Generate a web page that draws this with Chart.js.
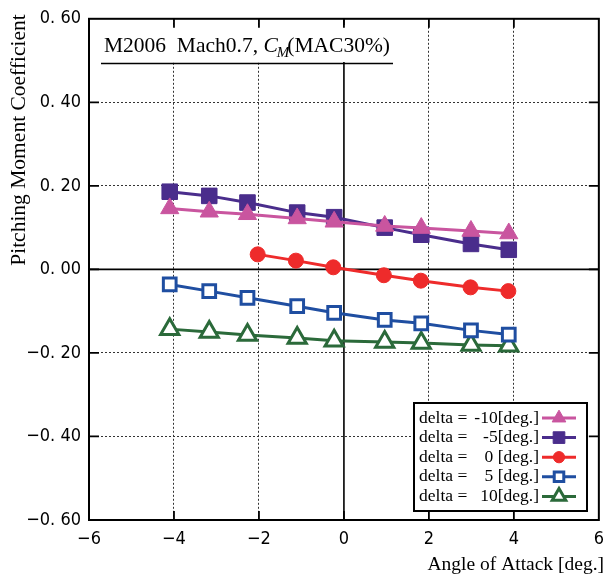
<!DOCTYPE html>
<html>
<head>
<meta charset="utf-8">
<script src="https://cdn.jsdelivr.net/npm/chart.js@4/dist/chart.umd.min.js"></script>
<style>
  body { margin: 0; background: #fff; }
  #wrap { width: 613px; height: 576px; }
</style>
</head>
<body>
<div id="wrap"><canvas id="chart" width="613" height="576"></canvas></div>
<script>
// angle of attack [deg.]
const aoa = [-4.1, -3.17, -2.27, -1.1, -0.23, 0.96, 1.82, 2.99, 3.88]
const aoaZero = [-2.03, -1.13, -0.25, 0.94, 1.81, 2.98, 3.87]

// pitching moment coefficient per elevator deflection
const cmM10 = [0.146, 0.138, 0.132, 0.122, 0.114, 0.104, 0.099, 0.092, 0.086]
const cmM5 = [0.186, 0.176, 0.160, 0.136, 0.125, 0.100, 0.083, 0.061, 0.047]
const cm0 = [0.036, 0.021, 0.005, -0.014, -0.027, -0.043, -0.052]
const cmP5 = [-0.036, -0.052, -0.068, -0.088, -0.104, -0.121, -0.129, -0.146, -0.156]
const cmP10 = [-0.143, -0.150, -0.157, -0.164, -0.171, -0.174, -0.176, -0.181, -0.183]

const legendNames = ["-10[deg.]", "-5[deg.]", "0 [deg.]", "5 [deg.]", "10[deg.]"]

// tick labels
const xTicks = [-6, -4, -2, 0, 2, 4, 6]
const yTicks = [-0.6, -0.4, -0.2, 0, 0.2, 0.4, 0.6]

const serif = '"Liberation Serif", "Times New Roman", serif'
const narrow = '"Liberation Sans Narrow", "DejaVu Sans Condensed", sans-serif'

const pts = (xs, ys) => ys.map((v, i) => ({ x: xs[i], y: v }))

function series(label, xs, ys, color, style, radius, open) {
  return {
    label: label,
    data: pts(xs, ys),
    showLine: true,
    borderColor: color,
    borderWidth: 3,
    pointStyle: style,
    pointRadius: radius,
    pointHoverRadius: radius,
    pointBackgroundColor: open ? "#fff" : color,
    pointBorderColor: color,
    pointBorderWidth: open ? 3 : 1
  }
}

const datasets = [
  series(legendNames[0], aoa, cmM10, "#c9559f", "triangle", 10.5, false),
  series(legendNames[1], aoa, cmM5, "#4a2d8c", "rect", 11, false),
  series(legendNames[2], aoaZero, cm0, "#ee2b2b", "circle", 7.5, false),
  series(legendNames[3], aoa, cmP5, "#1f4ea1", "rect", 9, true),
  series(legendNames[4], aoa, cmP10, "#2b6a3a", "triangle", 10.5, true)
]

const fmtY = v => {
  const s = Math.abs(v).toFixed(2).replace(".", ". ")
  return (v < -1e-9 ? "\u2212" : "") + s
}
const fmtX = v => (v < 0 ? "\u2212" : "") + Math.abs(v)

// frame, inward ticks, title box, legend and axis titles
const decor = {
  id: "decor",
  beforeDatasetsDraw(chart) {
    const { ctx, chartArea: a, scales } = chart
    const x0 = scales.x.getPixelForValue(0)
    const y0 = scales.y.getPixelForValue(0)
    ctx.save()
    ctx.strokeStyle = "#000"
    ctx.lineWidth = 1.6
    ctx.beginPath()
    ctx.moveTo(x0, a.top); ctx.lineTo(x0, a.bottom)
    ctx.moveTo(a.left, y0); ctx.lineTo(a.right, y0)
    ctx.stroke()

    // title box
    ctx.fillStyle = "#fff"
    ctx.fillRect(97, 25, 304, 37)
    ctx.fillStyle = "#000"
    ctx.textBaseline = "alphabetic"
    ctx.font = "21.5px " + serif
    let tx = 104
    const ty = 52
    const p1 = "M2006  Mach0.7, "
    ctx.fillText(p1, tx, ty); tx += ctx.measureText(p1).width
    ctx.font = "italic 21.5px " + serif
    ctx.fillText("C", tx, ty); tx += ctx.measureText("C").width
    ctx.font = "italic 15px " + serif
    ctx.fillText("M", tx - 1, ty + 5); tx += ctx.measureText("M").width - 3
    ctx.font = "21.5px " + serif
    ctx.fillText("(MAC30%)", tx, ty)
    ctx.lineWidth = 1.5
    ctx.beginPath()
    ctx.moveTo(101, 63.5); ctx.lineTo(393, 63.5)
    ctx.stroke()
    ctx.restore()
  },
  afterDatasetsDraw(chart) {
    const { ctx } = chart
    ctx.save()
    // legend
    const bx = 414, by = 403, bw = 173, bh = 108
    ctx.fillStyle = "#fff"
    ctx.fillRect(bx, by, bw, bh)
    ctx.strokeStyle = "#000"
    ctx.lineWidth = 2
    ctx.strokeRect(bx, by, bw, bh)
    ctx.font = "17.5px " + serif
    ctx.textBaseline = "middle"
    chart.data.datasets.forEach((ds, i) => {
      const ry = 418 + i * 19.6
      ctx.fillStyle = "#000"
      ctx.textAlign = "left"
      ctx.fillText("delta =", 419, ry)
      ctx.textAlign = "right"
      ctx.fillText(ds.label, 539, ry)
      ctx.strokeStyle = ds.borderColor
      ctx.lineWidth = 3
      ctx.beginPath()
      ctx.moveTo(542, ry); ctx.lineTo(576, ry)
      ctx.stroke()
      ctx.fillStyle = ds.pointBackgroundColor
      ctx.lineWidth = ds.pointBorderWidth
      Chart.helpers.drawPoint(ctx, {
        pointStyle: ds.pointStyle,
        radius: ds.pointRadius * 0.75,
        rotation: 0,
        borderWidth: ds.pointBorderWidth
      }, 559, ry)
    })
    ctx.restore()
  },
  afterDraw(chart) {
    const { ctx, chartArea: a, scales } = chart
    ctx.save()
    ctx.strokeStyle = "#000"
    ctx.lineWidth = 2
    ctx.strokeRect(a.left, a.top, a.right - a.left, a.bottom - a.top)
    ctx.lineWidth = 1.8
    ctx.beginPath()
    xTicks.slice(1, -1).forEach(v => {
      const px = scales.x.getPixelForValue(v)
      ctx.moveTo(px, a.bottom); ctx.lineTo(px, a.bottom - 9)
      ctx.moveTo(px, a.top); ctx.lineTo(px, a.top + 9)
    })
    yTicks.slice(1, -1).forEach(v => {
      const py = scales.y.getPixelForValue(v)
      ctx.moveTo(a.left, py); ctx.lineTo(a.left + 10, py)
      ctx.moveTo(a.right, py); ctx.lineTo(a.right - 10, py)
    })
    ctx.stroke()

    // axis titles
    ctx.fillStyle = "#000"
    ctx.font = "19.5px " + serif
    ctx.textAlign = "right"
    ctx.textBaseline = "alphabetic"
    ctx.fillText("Angle of Attack [deg.]", 604, 570)
    ctx.font = "21.5px " + serif
    ctx.translate(25, 140)
    ctx.rotate(-Math.PI / 2)
    ctx.textAlign = "center"
    ctx.fillText("Pitching Moment Coefficient", 0, 0)
    ctx.restore()
  }
}

new Chart(document.getElementById("chart"), {
  type: "scatter",
  data: { datasets: datasets },
  plugins: [decor],
  options: {
    responsive: false,
    animation: false,
    layout: { padding: { top: 16, right: 12, left: 0, bottom: 0 } },
    plugins: { legend: { display: false }, tooltip: { enabled: false } },
    scales: {
      x: {
        type: "linear",
        min: -6,
        max: 6,
        afterBuildTicks: s => { s.ticks = xTicks.map(v => ({ value: v })) },
        afterFit: s => { s.height = 56 },
        grid: {
          color: c => (c.tick && (c.tick.value === 0 || Math.abs(c.tick.value) === 6)) ? "rgba(0,0,0,0)" : "#333",
          lineWidth: 1,
          drawTicks: false,
          borderDash: [2, 2]
        },
        border: { display: false, dash: [2, 2] },
        ticks: {
          padding: 9,
          color: "#000",
          maxRotation: 0,
          font: { family: narrow, size: 18 },
          callback: v => fmtX(v)
        }
      },
      y: {
        type: "linear",
        min: -0.6,
        max: 0.6,
        afterBuildTicks: s => { s.ticks = yTicks.map(v => ({ value: v })) },
        afterFit: s => { s.width = 89 },
        grid: {
          color: c => (c.tick && (Math.abs(c.tick.value) < 1e-9 || Math.abs(c.tick.value) > 0.59)) ? "rgba(0,0,0,0)" : "#333",
          lineWidth: 1,
          drawTicks: false,
          borderDash: [2, 2]
        },
        border: { display: false, dash: [2, 2] },
        ticks: {
          padding: 8,
          color: "#000",
          font: { family: narrow, size: 18 },
          callback: v => fmtY(v)
        }
      }
    }
  }
})
</script>
</body>
</html>
